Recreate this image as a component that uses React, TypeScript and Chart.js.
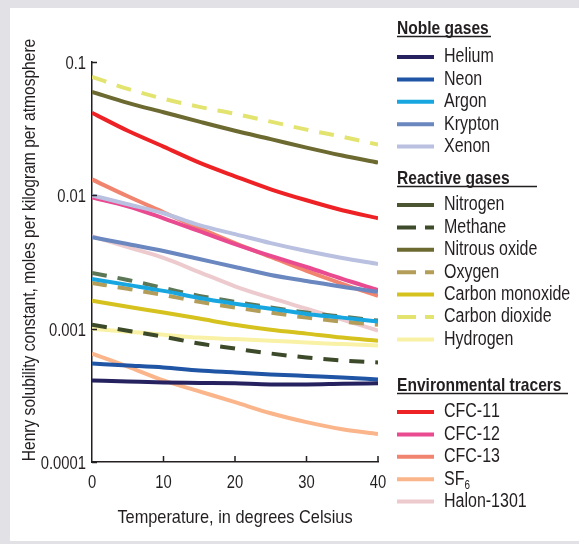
import React, { useEffect, useRef } from "react";
import { Chart, registerables } from "chart.js";

Chart.register(...registerables);

// Temperature steps (degrees Celsius)
const temperatures = [0, 5, 10, 15, 20, 25, 30, 35, 40];

// Henry solubility constants, moles per kilogram per atmosphere
const helium = [0.000409, 0.000402, 0.000395, 0.000392, 0.000389, 0.000382, 0.000382, 0.000386, 0.000389];
const neon = [0.000548, 0.00053, 0.000512, 0.000486, 0.00047, 0.000454, 0.000442, 0.000431, 0.000416];
const argon = [0.00236, 0.00213, 0.00192, 0.0017, 0.00154, 0.00141, 0.00129, 0.00121, 0.00113];
const krypton = [0.00486, 0.00431, 0.00382, 0.00333, 0.0029, 0.00253, 0.00228, 0.00206, 0.00189];
const xenon = [0.01, 0.00857, 0.00734, 0.00597, 0.00512, 0.00438, 0.00382, 0.00339, 0.00306];

const nitrogen = [0.00107, 0.000966, 0.000871, 0.000773, 0.000709, 0.000651, 0.000608, 0.000577, 0.000558];
const methane = [0.00262, 0.00232, 0.00202, 0.00176, 0.00159, 0.00144, 0.00132, 0.00123, 0.00115];
const nitrousOxide = [0.0597, 0.0494, 0.042, 0.0357, 0.0305, 0.0264, 0.0228, 0.0199, 0.0176];
const oxygen = [0.0022, 0.00199, 0.00179, 0.00159, 0.00144, 0.00132, 0.00121, 0.00113, 0.00107];
const carbonMonoxide = [0.00162, 0.00146, 0.00132, 0.00119, 0.00107, 0.000983, 0.000918, 0.000857, 0.000813];
const carbonDioxide = [0.0773, 0.0629, 0.053, 0.0461, 0.0409, 0.0357, 0.0311, 0.0275, 0.024];
const hydrogen = [0.001, 0.00095, 0.000902, 0.000857, 0.000835, 0.000813, 0.000786, 0.000766, 0.000747];

const cfc11 = [0.0416, 0.0305, 0.0232, 0.0176, 0.0139, 0.0111, 0.00918, 0.00773, 0.00673];
const cfc12 = [0.00966, 0.00828, 0.00673, 0.00539, 0.00431, 0.00351, 0.0029, 0.00236, 0.00195];
const cfc13 = [0.01316, 0.00984, 0.00747, 0.00567, 0.00438, 0.00345, 0.00271, 0.00217, 0.00176];
const sf6 = [0.000651, 0.00052, 0.000409, 0.000339, 0.000281, 0.000232, 0.000199, 0.000176, 0.000162];
const halon1301 = [0.00494, 0.00409, 0.00339, 0.00266, 0.00208, 0.0017, 0.00141, 0.00117, 0.000966];

// Axis ticks
const xTicks = [0, 10, 20, 30, 40];
const xTickLabels = ["0", "10", "20", "30", "40"];
const yTicks = [0.0001, 0.001, 0.01, 0.1];
const yTickLabels = ["0.0001", "0.001", "0.01", "0.1"];

const xTitle = "Temperature, in degrees Celsius";
const yTitle = "Henry solubility constant, moles per kilogram per atmosphere";
const groupTitles = ["Noble gases", "Reactive gases", "Environmental tracers"];

const INK = "#231f20";
const FONT = '"Liberation Sans", Arimo, Arial, sans-serif';
const NARROW = 0.82; // horizontal squeeze giving a condensed face
const PLOT_DASH = [15, 11];
const KEY_DASH = [19, 9];

type Series = {
  label: string;
  values: number[];
  group: number;
  color: string;
  dash?: number[];
  keyColor?: string;
  keyDash?: number[];
};

const series: Series[] = [
  { label: "Helium", values: helium, group: 0, color: "#25225f" },
  { label: "Neon", values: neon, group: 0, color: "#1f55a4" },
  { label: "Argon", values: argon, group: 0, color: "#17a6df" },
  { label: "Krypton", values: krypton, group: 0, color: "#6a87c0" },
  { label: "Xenon", values: xenon, group: 0, color: "#b9c0e0" },
  { label: "Nitrogen", values: nitrogen, group: 1, color: "#3d4a29", dash: PLOT_DASH, keyColor: "#4b5531", keyDash: [] },
  { label: "Methane", values: methane, group: 1, color: "#5b7756", dash: PLOT_DASH, keyColor: "#3e4c2b", keyDash: KEY_DASH },
  { label: "Nitrous oxide", values: nitrousOxide, group: 1, color: "#6d6a31" },
  { label: "Oxygen", values: oxygen, group: 1, color: "#b39d59", dash: PLOT_DASH },
  { label: "Carbon monoxide", values: carbonMonoxide, group: 1, color: "#d6c21e" },
  { label: "Carbon dioxide", values: carbonDioxide, group: 1, color: "#e3e46f", dash: PLOT_DASH },
  { label: "Hydrogen", values: hydrogen, group: 1, color: "#f9f2a6" },
  { label: "CFC-11", values: cfc11, group: 2, color: "#ee2125" },
  { label: "CFC-12", values: cfc12, group: 2, color: "#e94a90" },
  { label: "CFC-13", values: cfc13, group: 2, color: "#f1846f" },
  { label: "SF₆", values: sf6, group: 2, color: "#fbb58b" },
  { label: "Halon-1301", values: halon1301, group: 2, color: "#eccacd" },
];

// Key layout: heading baseline, first entry centre, underline end
const keyGroups = [
  { headingY: 34, firstY: 57, underlineTo: 491 },
  { headingY: 184, firstY: 205, underlineTo: 537 },
  { headingY: 391, firstY: 412, underlineTo: 568 },
];
const KEY_STEP = 22.4;
const KEY_LINE_X0 = 397;
const KEY_LINE_X1 = 434;
const KEY_TEXT_X = 444;
const KEY_SIZE = 19.5;

const SUBSCRIPTS = "₀₁₂₃₄₅₆₇₈₉";

// Condensed text: regular face squeezed horizontally around the anchor
function narrowText(
  ctx: CanvasRenderingContext2D,
  text: string,
  x: number,
  y: number,
  font: string,
  align: CanvasTextAlign = "left",
  baseline: CanvasTextBaseline = "middle",
  squeeze: number = NARROW
) {
  ctx.save();
  ctx.translate(x, y);
  ctx.scale(squeeze, 1);
  ctx.font = font;
  ctx.textAlign = align;
  ctx.textBaseline = baseline;
  ctx.fillText(text, 0, 0);
  ctx.restore();
}

function drawKeyLabel(ctx: CanvasRenderingContext2D, text: string, x: number, y: number, size: number) {
  let cx = x;
  for (const ch of text) {
    const sub = SUBSCRIPTS.indexOf(ch);
    const glyph = sub >= 0 ? String(sub) : ch;
    const font = sub >= 0 ? `${Math.round(size * 0.6)}px ${FONT}` : `${size}px ${FONT}`;
    const dy = sub >= 0 ? size * 0.32 : 0;
    narrowText(ctx, glyph, cx, y + dy, font);
    ctx.font = font;
    cx += ctx.measureText(glyph).width * NARROW;
  }
}

const decorations = {
  id: "decorations",
  afterDraw(chart: any) {
    const ctx: CanvasRenderingContext2D = chart.ctx;
    const xs = chart.scales.x;
    const ys = chart.scales.y;
    ctx.save();

    // inward tick marks
    ctx.strokeStyle = INK;
    ctx.lineWidth = 1.5;
    ctx.beginPath();
    ys.ticks.forEach((t: any) => {
      const py = Math.round(ys.getPixelForValue(t.value)) + 0.5;
      ctx.moveTo(xs.left, py);
      ctx.lineTo(xs.left + 5, py);
    });
    xs.ticks.forEach((t: any, i: number) => {
      if (i === 0) return;
      const px = xs.getPixelForValue(t.value);
      ctx.moveTo(px, ys.bottom);
      ctx.lineTo(px, ys.bottom - 6);
    });
    ctx.stroke();

    // tick labels
    ctx.fillStyle = INK;
    ys.ticks.forEach((t: any, i: number) => {
      narrowText(ctx, yTickLabels[i], xs.left - 6, ys.getPixelForValue(t.value) + 2, `18.5px ${FONT}`, "right", "middle", 0.8);
    });
    xs.ticks.forEach((t: any, i: number) => {
      narrowText(ctx, xTickLabels[i], xs.getPixelForValue(t.value), ys.bottom + 21, `18.5px ${FONT}`, "center", "middle", 0.8);
    });

    // axis titles
    narrowText(ctx, xTitle, 235, 518, `19px ${FONT}`, "center", "middle", 0.86);
    ctx.save();
    ctx.translate(30, 250);
    ctx.rotate(-Math.PI / 2);
    narrowText(ctx, yTitle, 0, 0, `19px ${FONT}`, "center", "middle", 0.82);
    ctx.restore();

    // grouped key
    keyGroups.forEach((g, gi) => {
      ctx.fillStyle = INK;
      narrowText(ctx, groupTitles[gi], KEY_LINE_X0, g.headingY, `bold 19px ${FONT}`, "left", "alphabetic");
      ctx.strokeStyle = INK;
      ctx.lineWidth = 1.5;
      ctx.setLineDash([]);
      ctx.beginPath();
      ctx.moveTo(KEY_LINE_X0, g.headingY + 2.5);
      ctx.lineTo(g.underlineTo, g.headingY + 2.5);
      ctx.stroke();

      series
        .filter((s) => s.group === gi)
        .forEach((s, i) => {
          const y = g.firstY + i * KEY_STEP;
          ctx.strokeStyle = s.keyColor || s.color;
          ctx.lineWidth = 4;
          ctx.setLineDash(s.keyDash || (s.dash ? KEY_DASH : []));
          ctx.beginPath();
          ctx.moveTo(KEY_LINE_X0, y);
          ctx.lineTo(KEY_LINE_X1, y);
          ctx.stroke();
          ctx.setLineDash([]);
          ctx.fillStyle = INK;
          drawKeyLabel(ctx, s.label, KEY_TEXT_X, y, KEY_SIZE);
        });
    });
    ctx.restore();
  },
};

export default function App() {
  const canvasRef = useRef<HTMLCanvasElement | null>(null);

  useEffect(() => {
    if (!canvasRef.current) return;
    const chart = new Chart(canvasRef.current, {
      type: "line",
      data: {
        datasets: series.map((s) => ({
          label: s.label,
          data: temperatures.map((t, i) => ({ x: t, y: s.values[i] })),
          borderColor: s.color,
          backgroundColor: s.color,
          borderWidth: 4,
          borderDash: s.dash || [],
          pointRadius: 0,
          tension: 0.3,
          cubicInterpolationMode: "monotone" as const,
          fill: false,
        })),
      },
      options: {
        animation: false,
        responsive: false,
        maintainAspectRatio: false,
        layout: { padding: { left: 0, right: 201, top: 62, bottom: 0 } },
        plugins: {
          legend: { display: false },
          tooltip: { enabled: false },
          title: { display: false },
        },
        scales: {
          x: {
            type: "linear",
            min: 0,
            max: 40,
            z: 1,
            grid: { display: false, drawTicks: false },
            border: { display: true, color: INK, width: 1.5 },
            afterBuildTicks: (scale: any) => {
              scale.ticks = xTicks.map((v) => ({ value: v }));
            },
            afterFit: (scale: any) => {
              scale.height = 82;
            },
            ticks: { display: false },
          },
          y: {
            type: "logarithmic",
            min: 0.0001,
            max: 0.1,
            z: 1,
            grid: { display: false, drawTicks: false },
            border: { display: true, color: INK, width: 1.5 },
            afterBuildTicks: (scale: any) => {
              scale.ticks = yTicks.map((v) => ({ value: v }));
            },
            afterFit: (scale: any) => {
              scale.width = 92;
            },
            ticks: { display: false },
          },
        },
      },
      plugins: [decorations],
    });
    return () => chart.destroy();
  }, []);

  return (
    <div style={{ position: "fixed", left: 0, top: 0, width: 579, height: 544, background: "#e2e1e6", overflow: "hidden" }}>
      <div style={{ position: "absolute", left: 10, top: 8, width: 569, height: 533, background: "#ffffff" }} />
      <canvas ref={canvasRef} width={579} height={544} style={{ position: "absolute", left: 0, top: 0, width: 579, height: 544 }} />
    </div>
  );
}
